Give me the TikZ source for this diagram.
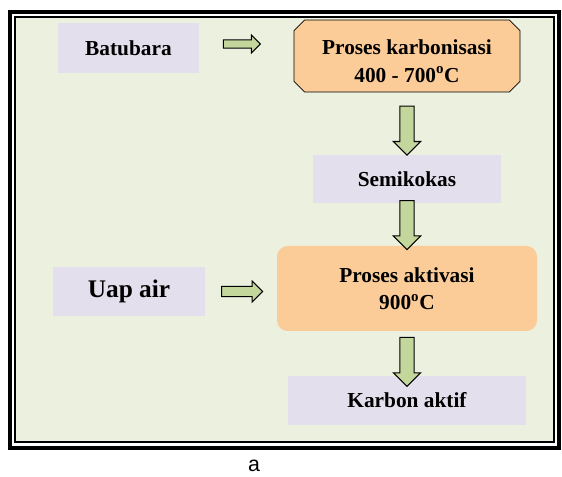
\documentclass[tikz,border=0pt]{standalone}
\usepackage{fontspec}
\setmainfont{Liberation Serif}
\newfontfamily\capfont{Liberation Sans}
\usetikzlibrary{calc,shapes.misc,shapes.arrows}

\definecolor{bggreen}{HTML}{EBF1DE}
\definecolor{lavbox}{HTML}{E4DFEC}
\definecolor{peach}{HTML}{FBCB98}
\definecolor{arrowgreen}{HTML}{C3D69B}

\tikzset{
  labelbox/.style={fill=lavbox, inner sep=0pt, align=center,
    font=\bfseries\fontsize{16}{20.5}\selectfont},
  procbox/.style={fill=peach, inner sep=0pt, align=center,
    font=\bfseries\fontsize{16}{20.5}\selectfont},
  fatarrow/.style={single arrow, draw=black, fill=arrowgreen, line width=0.8pt,
    inner xsep=0pt, single arrow head indent=0pt},
  downarrow/.style={fatarrow, rotate=-90, minimum height=36.75pt,
    inner ysep=4.9pt, single arrow head extend=4.9pt}
}

\begin{document}
\begin{tikzpicture}[x=0.75pt,y=-0.75pt]
    \useasboundingbox (0,0) rectangle (562,477);
    % frame
    \fill[bggreen] (15,17) rectangle (554,442);
    \draw[black, line width=3pt] (10,12) rectangle (559,448);
    \draw[black, line width=0.8pt] (15,17) rectangle (554,442);

    % boxes
    \node[labelbox, minimum width=105.75pt, minimum height=37.5pt] (bat) at (128.5,48) {Batubara};
    \node[procbox, chamfered rectangle, chamfered rectangle xsep=4pt, chamfered rectangle ysep=4pt,
      draw=black, line width=0.6pt, minimum width=169.5pt, minimum height=54pt] (karb) at (407,56)
      {\rule{0pt}{19pt}Proses karbonisasi\\400 - 700\textsuperscript{o}C};
    \node[labelbox, minimum width=141pt, minimum height=36pt] (semi) at (407,179) {Semikokas};
    \node[labelbox, minimum width=114pt, minimum height=36.75pt,
      font=\bfseries\fontsize{19}{23}\selectfont] (uap) at (129,291.5) {Uap air};
    \node[procbox, rounded corners=8pt, minimum width=195pt, minimum height=63.75pt] (aktiv) at (407,288.5)
      {Proses aktivasi\\900\textsuperscript{o}C};
    \node[labelbox, minimum width=178.5pt, minimum height=36.75pt] (karbon) at (407,400.5) {Karbon aktif};

    % arrows
    \path (bat.east) -- node[fatarrow, pos=0.43, yshift=3pt, minimum height=27.75pt,
      inner ysep=2.7pt, single arrow head extend=3.6pt] {} (bat.east -| karb.west);
    \path (uap.east) -- node[fatarrow, pos=0.48, minimum height=30.75pt,
      inner ysep=3.4pt, single arrow head extend=4pt] {} (uap.east -| aktiv.west);
    \path (karb.south) -- node[downarrow, pos=0.556] {} (semi.north);
    \path (semi.south) -- node[downarrow, pos=0.43] {} (aktiv.north);
    \path (aktiv.south) -- node[downarrow, pos=0.61] {} (karbon.north);

    \node[font=\capfont\fontsize{16}{19}\selectfont] (cap) at (254,466) {a};
  \end{tikzpicture}
\end{document}
